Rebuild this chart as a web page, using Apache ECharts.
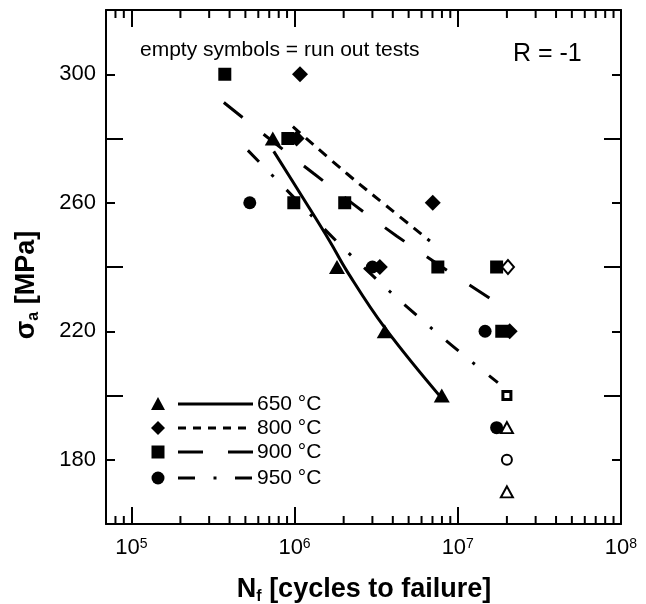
<!DOCTYPE html>
<html>
<head>
<meta charset="utf-8">
<script src="https://cdn.jsdelivr.net/npm/echarts@6/dist/echarts.min.js"></script>
<style>
  html, body { margin: 0; padding: 0; background: #fff; }
  #chart { width: 646px; height: 604px; }
</style>
</head>
<body>
<div id="chart"></div>
<script>
const FONT = '"Liberation Sans", Arial, sans-serif';

// broken specimens: [cycles to failure, stress amplitude MPa]
const broken650 = [[7.36e5, 280], [1.82e6, 240], [3.57e6, 220], [7.98e6, 200]];
const broken800 = [[1.08e6, 300], [1.03e6, 280], [7.03e6, 260], [3.33e6, 240], [2.08e7, 220]];
const broken900 = [[3.74e5, 300], [9.1e5, 280], [9.9e5, 260], [2.03e6, 260], [7.55e6, 240], [1.73e7, 240], [1.86e7, 220]];
const broken950 = [[5.32e5, 260], [3.0e6, 240], [1.47e7, 220], [1.73e7, 190]];

// run outs (empty symbols)
const runout650 = [[2.0e7, 190], [2.0e7, 170]];
const runout800 = [[2.03e7, 240]];
const runout900 = [[2.0e7, 200]];
const runout950 = [[2.0e7, 180]];

// fitted curves
const fit650 = [[7.46e5, 276], [1.13e6, 261.4], [1.64e6, 248.1], [2.09e6, 238.8], [3.57e6, 221.1], [7.98e6, 199.1]];
const fit800 = [[9.77e5, 283.7], [2.09e6, 269.1], [3.68e6, 258.9], [6.75e6, 248.1]];
const fit900 = [[3.69e5, 291.2], [1.31e6, 269.1], [4.24e6, 249.6], [1.62e7, 229.8]];
const fit950 = [[5.18e5, 276.3], [9.64e5, 262.3], [2.18e6, 244.0], [6.84e6, 221.1], [1.76e7, 204.0]];

// axis furniture
const xMin = 7e4;
const xMax = 1e8;
const yMin = 160;
const yMax = 320;
const yLabelled = [180, 220, 260, 300];
const minorDecades = [1e4, 1e5, 1e6, 1e7];
const minorSteps = [2, 3, 4, 5, 6, 7, 8, 9];
const minorTicks = [];
minorDecades.forEach( ( d ) => minorSteps.forEach( ( s ) => {
	const v = d * s;
	if ( v > xMin && v < xMax ) {
		minorTicks.push( v );
	}
} ) );

const legendRows = [
	{ name: '650 °C', y: 404 },
	{ name: '800 °C', y: 428 },
	{ name: '900 °C', y: 452 },
	{ name: '950 °C', y: 478 }
];

const black = '#000';

const tickStyle = { color: black, width: 2 };

const xAxisBase = {
	type: 'log',
	logBase: 10,
	min: xMin,
	max: xMax,
	splitLine: { show: false },
	axisLine: { show: true, lineStyle: { color: black, width: 2 } },
	axisTick: { show: true, inside: true, length: 17, lineStyle: tickStyle }
};

const yAxisBase = {
	type: 'value',
	min: yMin,
	max: yMax,
	splitLine: { show: false }
};

const decadeLabel = ( v ) => {
	const lg = Math.log10( v );
	const e = Math.round( lg );
	if ( Math.abs( lg - e ) > 1e-6 ) {
		return '';
	}
	return '{b|10}{s|' + e + '}';
};

const stressLabel = ( v ) => ( yLabelled.indexOf( v ) >= 0 ? String( v ) : '' );

const fitLine = ( data, type ) => ( {
	type: 'line',
	data,
	showSymbol: false,
	smooth: 0.4,
	silent: true,
	z: 2,
	lineStyle: { color: black, width: 3, type, cap: 'butt' }
} );

const filled = ( data, symbol, size ) => ( {
	type: 'scatter',
	data,
	symbol,
	symbolSize: size,
	silent: true,
	z: 4,
	itemStyle: { color: black, opacity: 1 }
} );

const empty = ( data, symbol, size, border ) => ( {
	type: 'scatter',
	data,
	symbol,
	symbolSize: size,
	silent: true,
	z: 4,
	itemStyle: { color: '#fff', borderColor: black, borderWidth: border, opacity: 1 }
} );

// legend: symbol, line sample, label
const legendLines = [
	{ dash: null },
	{ dash: [8, 7] },
	{ dash: [25, 25] },
	{ dash: [17, 18.5, 3, 18.5] }
];
const sx = 158;
const legendSymbols = [
	( y ) => ( { type: 'polygon', shape: { points: [[sx, y - 7], [sx + 7, y + 6], [sx - 7, y + 6]] } } ),
	( y ) => ( { type: 'polygon', shape: { points: [[sx, y - 7], [sx + 7, y], [sx, y + 7], [sx - 7, y]] } } ),
	( y ) => ( { type: 'rect', shape: { x: sx - 6.5, y: y - 6.5, width: 13, height: 13 } } ),
	( y ) => ( { type: 'circle', shape: { cx: sx, cy: y, r: 6.5 } } )
];
const legendGraphics = [];
legendRows.forEach( ( row, i ) => {
	const sym = legendSymbols[ i ]( row.y );
	sym.style = { fill: black };
	legendGraphics.push( sym );
	legendGraphics.push( {
		type: 'line',
		shape: { x1: 178, y1: row.y, x2: 253, y2: row.y },
		style: { stroke: black, lineWidth: 3, lineDash: legendLines[ i ].dash }
	} );
	legendGraphics.push( {
		type: 'text',
		x: 257,
		y: row.y,
		style: { text: row.name, font: '21px ' + FONT, fill: black, verticalAlign: 'middle' }
	} );
} );

const chart = echarts.init( document.getElementById( 'chart' ), null, { renderer: 'canvas' } );

chart.setOption( {
	animation: false,
	backgroundColor: '#fff',
	grid: { left: 106, right: 25, top: 10, bottom: 80, containLabel: false, outerBoundsMode: 'none' },
	xAxis: [
		Object.assign( {}, xAxisBase, {
			position: 'bottom',
			axisLabel: {
				show: true,
				margin: 13,
				formatter: decadeLabel,
				rich: {
					b: { fontFamily: FONT, fontSize: 22, lineHeight: 22, color: black },
					s: { fontFamily: FONT, fontSize: 14, lineHeight: 14, verticalAlign: 'top', color: black }
				}
			}
		} ),
		Object.assign( {}, xAxisBase, {
			position: 'top',
			axisLabel: { show: false }
		} )
	],
	yAxis: [
		Object.assign( {}, yAxisBase, {
			position: 'left',
			interval: 20,
			axisLine: { show: true, lineStyle: { color: black, width: 2 } },
			axisTick: { show: true, inside: true, length: 9, lineStyle: tickStyle },
			axisLabel: { show: true, margin: 10, formatter: stressLabel, fontFamily: FONT, fontSize: 22, color: black }
		} ),
		Object.assign( {}, yAxisBase, {
			position: 'left',
			interval: 40,
			axisLine: { show: false },
			axisTick: { show: true, inside: true, length: 17, lineStyle: tickStyle },
			axisLabel: { show: false }
		} ),
		Object.assign( {}, yAxisBase, {
			position: 'right',
			interval: 20,
			axisLine: { show: true, lineStyle: { color: black, width: 2 } },
			axisTick: { show: true, inside: true, length: 9, lineStyle: tickStyle },
			axisLabel: { show: false }
		} ),
		Object.assign( {}, yAxisBase, {
			position: 'right',
			interval: 40,
			axisLine: { show: false },
			axisTick: { show: true, inside: true, length: 17, lineStyle: tickStyle },
			axisLabel: { show: false }
		} )
	],
	series: [
		fitLine( fit650, 'solid' ),
		fitLine( fit800, [10, 7.5] ),
		fitLine( fit900, [24, 27] ),
		fitLine( fit950, [16, 18, 3, 18] ),
		filled( broken650, 'triangle', [16, 14] ),
		filled( broken800, 'diamond', [16, 16] ),
		filled( broken900, 'rect', 13 ),
		filled( broken950, 'circle', 13 ),
		empty( runout650, 'triangle', [12, 11], 2 ),
		empty( runout800, 'diamond', [12, 14], 2 ),
		empty( runout900, 'rect', 8, 3 ),
		empty( runout950, 'circle', 10, 2 ),
		{
			// minor log ticks on bottom and top edges
			type: 'custom',
			silent: true,
			z: 5,
			data: minorTicks.map( ( v ) => [ v, yMin ] ),
			renderItem: ( params, api ) => {
				const bottom = api.coord( [ api.value( 0 ), yMin ] );
				const top = api.coord( [ api.value( 0 ), yMax ] );
				const st = { stroke: black, lineWidth: 2 };
				return {
					type: 'group',
					children: [
						{ type: 'line', shape: { x1: bottom[ 0 ], y1: bottom[ 1 ], x2: bottom[ 0 ], y2: bottom[ 1 ] - 8 }, style: st },
						{ type: 'line', shape: { x1: top[ 0 ], y1: top[ 1 ], x2: top[ 0 ], y2: top[ 1 ] + 8 }, style: st }
					]
				};
			}
		}
	],
	graphic: [
		{
			type: 'text',
			x: 140,
			y: 50,
			style: { text: 'empty symbols = run out tests', font: '21px ' + FONT, fill: black, verticalAlign: 'middle' }
		},
		{
			type: 'text',
			x: 513,
			y: 54,
			style: { text: 'R = -1', font: '25px ' + FONT, fill: black, verticalAlign: 'middle' }
		},
		{
			type: 'text',
			x: 364,
			y: 590,
			style: {
				text: '{b|N}{s|f}{b| [cycles to failure]}',
				align: 'center',
				verticalAlign: 'middle',
				rich: {
					b: { fontFamily: FONT, fontWeight: 'bold', fontSize: 27, lineHeight: 30, fill: black },
					s: { fontFamily: FONT, fontWeight: 'bold', fontSize: 16, lineHeight: 16, verticalAlign: 'bottom', fill: black }
				}
			}
		},
		{
			type: 'text',
			x: 27,
			y: 285,
			rotation: Math.PI / 2,
			style: {
				text: '{b|σ}{s|a}{b| [MPa]}',
				align: 'center',
				verticalAlign: 'middle',
				rich: {
					b: { fontFamily: FONT, fontWeight: 'bold', fontSize: 27, lineHeight: 30, fill: black },
					s: { fontFamily: FONT, fontWeight: 'bold', fontSize: 16, lineHeight: 16, verticalAlign: 'bottom', fill: black }
				}
			}
		}
	].concat( legendGraphics )
} );
</script>
</body>
</html>
